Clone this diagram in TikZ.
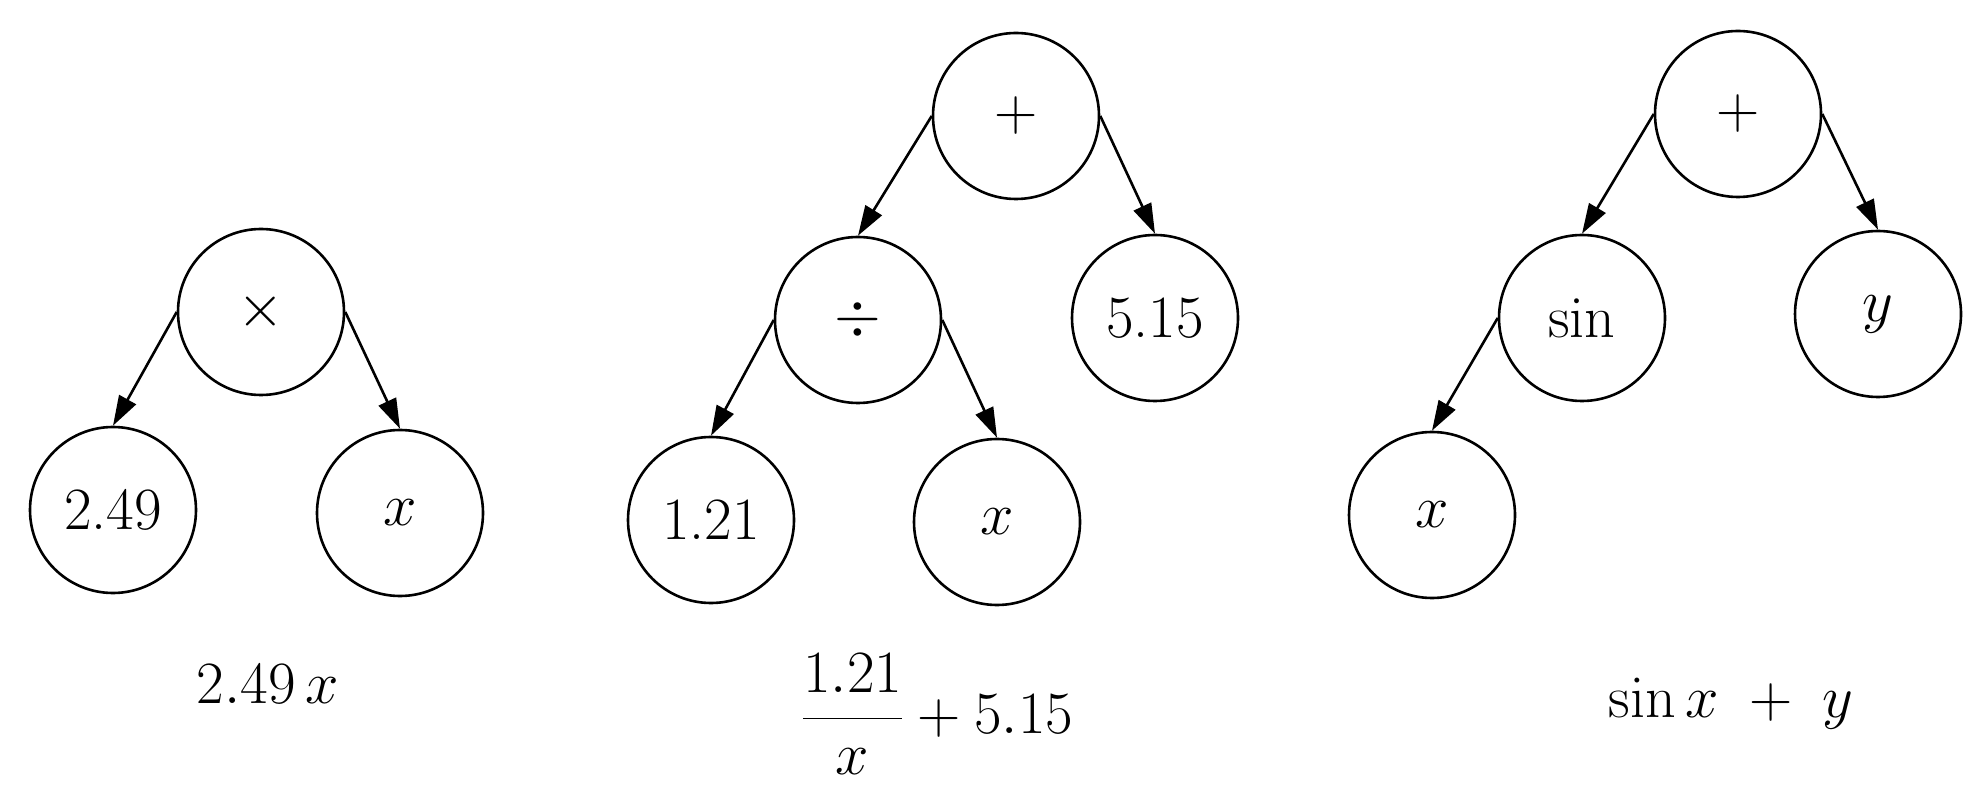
\RequirePackage{fix-cm}
\documentclass[tikz,border=0pt]{standalone}
\usetikzlibrary{arrows.meta}
\begin{document}
\begin{tikzpicture}[x=0.5pt,y=-0.5pt,
  tn/.style={circle,draw,line width=1.3pt,minimum size=83pt,inner sep=0pt,font=\fontsize{30}{36}\selectfont},
  edge/.style={line width=1.3pt,-{Triangle[length=15pt,width=9.5pt]}},
  lbl/.style={font=\fontsize{30}{36}\selectfont,inner sep=0pt,anchor=base}]
\useasboundingbox (0,0) rectangle (1980,806);
% tree 1
\node[tn] (t1) at (261,312) {$\times$};
\node[tn] (a1) at (113,510) {2.49};
\node[tn] (b1) at (400,513) {$x$};
\draw[edge] (t1.west) -- (a1.north);
\draw[edge] (t1.east) -- (b1.north);
\node[lbl] (e1) at (268,703) {$2.49\,x$};
% tree 2
\node[tn] (p2) at (1016,116) {$+$};
\node[tn] (d2) at (858,320) {$\div$};
\node[tn] (c2) at (1155,318) {5.15};
\node[tn] (a2) at (711,520) {1.21};
\node[tn] (b2) at (997,522) {$x$};
\draw[edge] (p2.west) -- (d2.north);
\draw[edge] (p2.east) -- (c2.north);
\draw[edge] (d2.west) -- (a2.north);
\draw[edge] (d2.east) -- (b2.north);
\node[lbl] (e2) at (937,733) {$\displaystyle\frac{1.21}{x}+5.15$};
% tree 3
\node[tn] (p3) at (1738,114) {$+$};
\node[tn] (s3) at (1582,318) {sin};
\node[tn] (y3) at (1878,314) {$y$};
\node[tn] (x3) at (1432,515) {$x$};
\draw[edge] (p3.west) -- (s3.north);
\draw[edge] (p3.east) -- (y3.north);
\draw[edge] (s3.west) -- (x3.north);
\node[lbl] (e3) at (1731,717) {$\sin x\;+\;y$};
\end{tikzpicture}
\end{document}
